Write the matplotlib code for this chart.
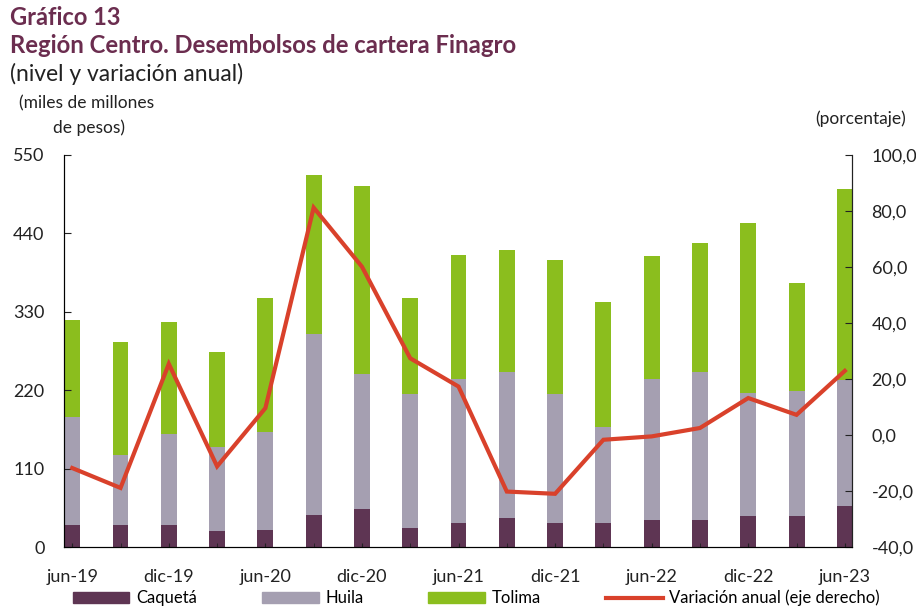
import matplotlib.pyplot as plt
import numpy as np
from matplotlib.lines import Line2D
from matplotlib.patches import Patch

plt.rcParams['font.family'] = ['Lato', 'DejaVu Sans']

periodos = ['jun-19', 'sep-19', 'dic-19', 'mar-20', 'jun-20', 'sep-20', 'dic-20', 'mar-21',
            'jun-21', 'sep-21', 'dic-21', 'mar-22', 'jun-22', 'sep-22', 'dic-22', 'mar-23', 'jun-23']
caqueta = [31, 31, 31, 22, 24, 45, 53, 26, 33, 40, 34, 33, 38, 38, 43, 43, 58]
huila = [151, 98, 127, 119, 138, 254, 190, 188, 203, 205, 180, 135, 198, 208, 173, 176, 176]
tolima = [137, 159, 158, 133, 187, 223, 264, 135, 174, 171, 189, 176, 172, 180, 239, 151, 268]
variacion = [-11.8, -18.9, 25.4, -11.2, 9.6, 81.2, 60.1, 27.4, 17.3, -20.2, -21.0,
             -1.7, -0.5, 2.5, 13.2, 7.2, 22.9]

c_caq = '#5e3553'
c_hui = '#a59fb1'
c_tol = '#8bbe1e'
c_var = '#d9412b'
c_tit = '#6b2d4f'

fig = plt.figure(figsize=(9.16, 6.09), dpi=100)
ax = fig.add_axes([0.0699, 0.1018, 0.8603, 0.6437])
x = np.arange(len(periodos))
w = 0.33
caq = np.array(caqueta)
hui = np.array(huila)
tol = np.array(tolima)
ax.bar(x, caq, w, color=c_caq)
ax.bar(x, hui, w, bottom=caq, color=c_hui)
ax.bar(x, tol, w, bottom=caq + hui, color=c_tol)

ax.set_xlim(-0.17, 16.15)
ax.set_ylim(0, 550)
ax.set_yticks(range(0, 551, 110))
ax.set_xticks(x[::2])
ax.set_xticklabels(periodos[::2])
ax.set_xticks(x, minor=True)
ax.tick_params(axis='y', direction='in', length=5, labelsize=13, colors='#222222', pad=14)
ax.tick_params(axis='x', which='both', direction='in', length=3, labelsize=13,
               colors='#222222', pad=16)
ax.spines['top'].set_visible(False)
for s in ['left', 'bottom', 'right']:
    ax.spines[s].set_color('#222222')

ax2 = ax.twinx()
ax2.plot(x, variacion, color=c_var, lw=3, solid_joinstyle='miter')
ax2.set_ylim(-40, 100)
ax2.set_yticks(range(-40, 101, 20))
ax2.set_yticklabels([f'{v:.1f}'.replace('.', ',') for v in range(-40, 101, 20)])
ax2.tick_params(axis='y', direction='in', length=5, labelsize=13, colors='#222222', pad=14)
ax2.spines['top'].set_visible(False)
ax2.spines['right'].set_color('#222222')

fig.text(0.011, 0.972, 'Gráfico 13', fontsize=17, fontweight='bold', color=c_tit, va='center')
fig.text(0.011, 0.925, 'Región Centro. Desembolsos de cartera Finagro', fontsize=17.2,
         fontweight='bold', color=c_tit, va='center')
fig.text(0.011, 0.878, '(nivel y variación anual)', fontsize=16.5, color='#222222', va='center')
fig.text(0.021, 0.830, '(miles de millones', fontsize=12.5, color='#222222', va='center')
fig.text(0.058, 0.791, 'de pesos)', fontsize=12.5, color='#222222', va='center')
fig.text(0.989, 0.805, '(porcentaje)', fontsize=12.5, color='#222222', va='center', ha='right')

handles = [Patch(color=c_caq), Patch(color=c_hui), Patch(color=c_tol),
           Line2D([], [], color=c_var, lw=3)]
labels = ['Caquetá', 'Huila', 'Tolima', 'Variación anual (eje derecho)']
fig.legend(handles, labels, loc='center', bbox_to_anchor=(0.52, 0.018), ncol=4,
           frameon=False, fontsize=12, handlelength=3.4, handleheight=0.6,
           columnspacing=3.9, handletextpad=0.4)

fig.savefig('out.png', dpi=100)
